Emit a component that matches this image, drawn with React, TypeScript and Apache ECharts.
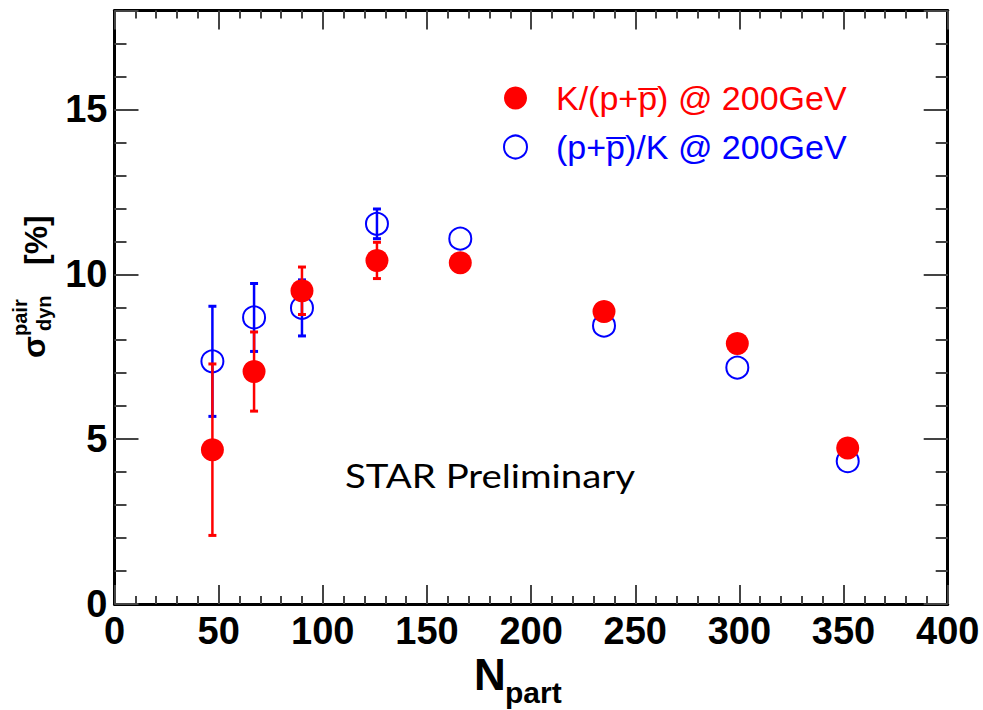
import React, { useEffect, useRef } from "react";
import * as echarts from "echarts";

// ---- data ----
const nPart = [47, 67, 90, 126, 166, 235, 299, 352];
const kOverPPbar = [4.68, 7.05, 9.5, 10.42, 10.35, 8.87, 7.9, 4.73];
const kOverPPbarErr = [2.6, 1.2, 0.72, 0.55, 0, 0, 0, 0];
const pPbarOverK = [7.36, 8.69, 8.98, 11.53, 11.08, 8.44, 7.17, 4.33];
const pPbarOverKErr = [1.67, 1.03, 0.85, 0.45, 0, 0, 0, 0];
const seriesNames = ["K/(p+p\u0305) @ 200GeV", "(p+p\u0305)/K @ 200GeV"];
const xRange = [0, 400];
const yRange = [0, 18];
const xMajor = 50;
const yMajor = 5;
const yMinor = 1;

const RED = "#ff0000";
const BLUE = "#0000ff";
const FONT = "'Liberation Sans', Arial, Helvetica, sans-serif";

const errData = (vals: number[], errs: number[]) =>
  nPart
    .map((x, i) => [x, vals[i] - errs[i], vals[i] + errs[i]])
    .filter((d, i) => errs[i] > 0);

const errorBarItem = (color: string) => (params: any, api: any) => {
  const x = api.value(0);
  const lo = api.coord([x, api.value(1)]);
  const hi = api.coord([x, api.value(2)]);
  const w = 4;
  const style = { stroke: color, lineWidth: 2.5 };
  return {
    type: "group",
    children: [
      { type: "line", shape: { x1: lo[0], y1: lo[1], x2: hi[0], y2: hi[1] }, style },
      { type: "line", shape: { x1: lo[0] - w, y1: lo[1], x2: lo[0] + w, y2: lo[1] }, style: { ...style, lineWidth: 3 } },
      { type: "line", shape: { x1: hi[0] - w, y1: hi[1], x2: hi[0] + w, y2: hi[1] }, style: { ...style, lineWidth: 3 } },
    ],
  };
};

const tickColor = "#444";

const makeX = (position: "bottom" | "top", labels: boolean) => ({
  type: "value",
  position,
  min: xRange[0],
  max: xRange[1],
  interval: xMajor,
  axisLine: { show: true, onZero: false, lineStyle: { color: "#000", width: 3 } },
  axisTick: { show: true, inside: true, length: 19, lineStyle: { color: tickColor, width: 2 } },
  minorTick: { show: true, splitNumber: 5, length: 8, lineStyle: { color: tickColor, width: 2 } },
  splitLine: { show: false },
  minorSplitLine: { show: false },
  axisLabel: {
    show: labels,
    color: "#000",
    fontSize: 38,
    fontWeight: "bold",
    fontFamily: FONT,
    margin: 8,
  },
});

const makeY = (position: "left" | "right", interval: number, len: number, labels: boolean, line: boolean) => ({
  type: "value",
  position,
  min: yRange[0],
  max: yRange[1],
  interval,
  axisLine: { show: line, onZero: false, lineStyle: { color: "#000", width: 3 } },
  axisTick: { show: true, inside: true, length: len, lineStyle: { color: tickColor, width: 2 } },
  splitLine: { show: false },
  axisLabel: {
    show: labels,
    color: "#000",
    fontSize: 38,
    fontWeight: "bold",
    fontFamily: FONT,
    margin: 7,
    formatter: (v: number) => (v % yMajor === 0 ? String(v) : ""),
  },
});

export default function App() {
  const ref = useRef<HTMLDivElement>(null);
  useEffect(() => {
    if (!ref.current) return;
    const chart = echarts.init(ref.current, undefined, { renderer: "svg" });
    chart.setOption({
      animation: false,
      backgroundColor: "#fff",
      grid: { left: 114.5, right: 35.3, top: 10.5, bottom: 106 },
      xAxis: [makeX("bottom", true), makeX("top", false)],
      yAxis: [
        makeY("left", yMajor, 24, true, true),
        makeY("left", yMinor, 12, false, false),
        makeY("right", yMajor, 24, false, true),
        makeY("right", yMinor, 12, false, false),
      ],
      legend: {
        orient: "vertical",
        left: 498,
        top: 76,
        itemWidth: 23,
        itemHeight: 23,
        itemGap: 15,
        textStyle: { fontSize: 34, fontFamily: FONT, lineHeight: 34, padding: [0, 0, 0, 24] },
        data: [
          { name: seriesNames[0], textStyle: { color: RED } },
          { name: seriesNames[1], textStyle: { color: BLUE } },
        ],
      },
      series: [
        {
          name: "err-blue",
          type: "custom",
          renderItem: errorBarItem(BLUE),
          data: errData(pPbarOverK, pPbarOverKErr),
          encode: { x: 0, y: [1, 2] },
          z: 1,
        },
        {
          name: seriesNames[1],
          type: "scatter",
          data: nPart.map((x, i) => [x, pPbarOverK[i]]),
          symbol: "circle",
          symbolSize: 22,
          itemStyle: { color: "rgba(255,255,255,0)", borderColor: BLUE, borderWidth: 2, opacity: 1 },
          z: 2,
        },
        {
          name: "err-red",
          type: "custom",
          renderItem: errorBarItem(RED),
          data: errData(kOverPPbar, kOverPPbarErr),
          encode: { x: 0, y: [1, 2] },
          z: 3,
        },
        {
          name: seriesNames[0],
          type: "scatter",
          data: nPart.map((x, i) => [x, kOverPPbar[i]]),
          symbol: "circle",
          symbolSize: 23,
          itemStyle: { color: RED, opacity: 1 },
          z: 4,
        },
      ],
      graphic: [
        {
          type: "group",
          x: 45,
          y: 358,
          rotation: Math.PI / 2,
          children: [
            { type: "text", x: 0, y: -11, style: { text: "\u03c3", font: `bold 32px ${FONT}`, fill: "#000", align: "left", verticalAlign: "middle" } },
            { type: "text", x: 22, y: -25, style: { text: "pair", font: `bold 20px ${FONT}`, fill: "#000", align: "left", verticalAlign: "middle" } },
            { type: "text", x: 27, y: -1.5, style: { text: "dyn", font: `bold 20px ${FONT}`, fill: "#000", align: "left", verticalAlign: "middle" } },
            { type: "text", x: 93, y: -9, style: { text: "[%]", font: `bold 32px ${FONT}`, fill: "#000", align: "left", verticalAlign: "middle" } },
          ],
        },
        { type: "text", x: 474, y: 674, style: { text: "N", font: `bold 44px ${FONT}`, fill: "#000", align: "left", verticalAlign: "middle" } },
        { type: "text", x: 505, y: 692.6, style: { text: "part", font: `bold 30px ${FONT}`, fill: "#000", align: "left", verticalAlign: "middle" } },
        { type: "text", x: 345, y: 476, scaleX: 1.2, style: { text: "STAR Preliminary", font: `32px Lato, 'Open Sans', sans-serif`, fill: "#000", align: "left", verticalAlign: "middle" } },
      ],
    });
    return () => chart.dispose();
  }, []);
  return (
    <div
      ref={ref}
      style={{ position: "fixed", left: 0, top: 0, width: 983, height: 710, background: "#fff" }}
    />
  );
}
